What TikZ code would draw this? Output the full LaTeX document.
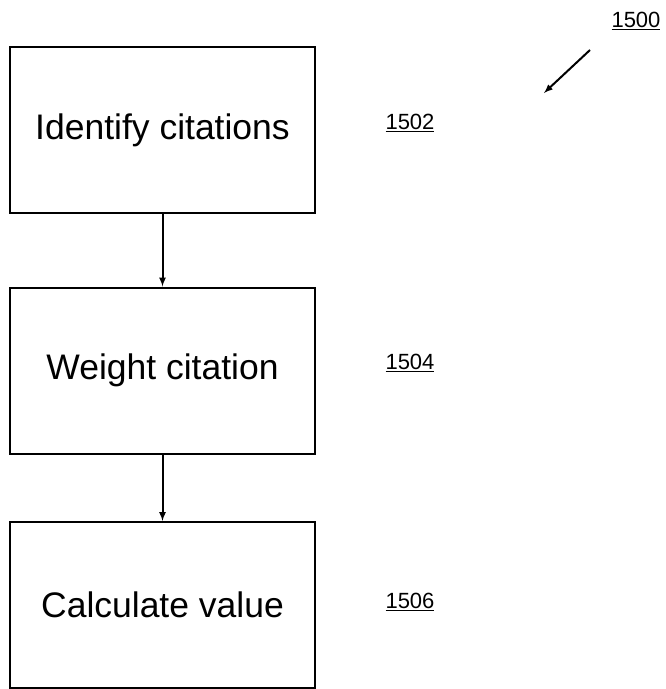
\documentclass[tikz,border=0pt]{standalone}
\usepackage{fontspec}
\setmainfont{Liberation Sans}
\usepackage{tikz}

\begin{document}
\begin{tikzpicture}
        [x=1pt,y=-1pt,line width=2pt]
            \tikzstyle{step box}=[rectangle, draw, fill=white,
        minimum width=305pt, minimum height=166pt, font=\fontsize{35.5}{38}\selectfont]
            \tikzstyle{ref label}=[inner sep=0pt, font=\fontsize{22}{24}\selectfont]
        \useasboundingbox (0,0) rectangle (666,689);
        %-----boxes
         \node[step box]  (identify) at (162.5,130) {Identify citations};
         \node[step box]  (weight) at (162.5,370.5) {Weight citation};
         \node[step box]  (calculate) at (162.5,605) {Calculate value};
        %-----reference numerals
         \node[ref label]  (n1502) at (410,123) {\underline{1502}};
         \node[ref label]  (n1504) at (410,363) {\underline{1504}};
         \node[ref label]  (n1506) at (410,602) {\underline{1506}};
         \node[ref label]  (n1500) at (636,21) {\underline{1500}};
         \coordinate (tail) at (590,50);
         \coordinate (tip) at (544,93);

         \foreach \from/\to in {identify/weight,weight/calculate}
         \draw[-latex] (\from) -- (\to);
         \draw[-latex] (tail) -- (tip);

        \end{tikzpicture}
\end{document}
